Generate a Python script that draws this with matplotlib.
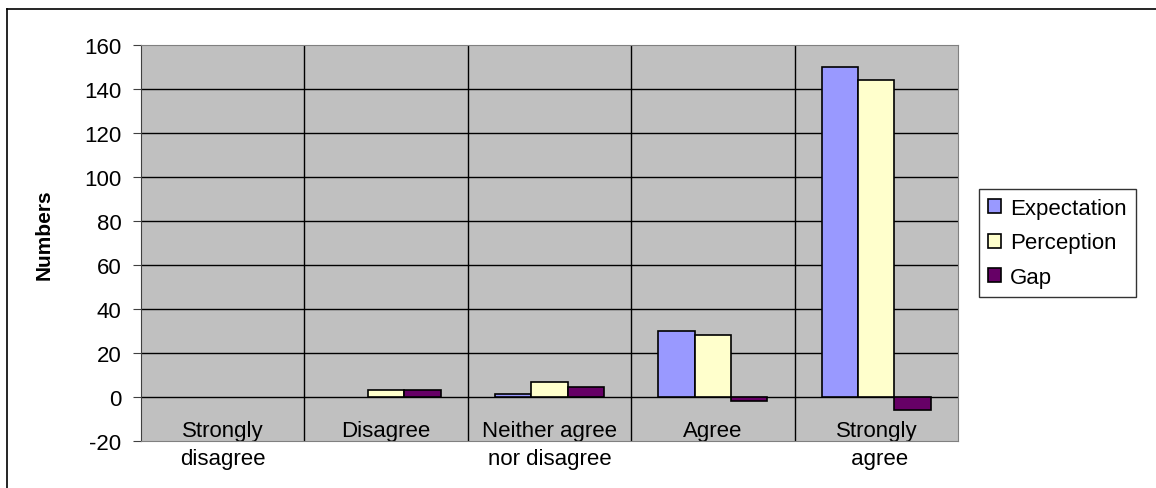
import matplotlib.pyplot as plt
import numpy as np
from matplotlib.lines import Line2D

categories = ["Strongly\ndisagree", "Disagree", "Neither agree\nnor disagree", "Agree", "Strongly\n agree"]
expectation = [0, 0, 1.5, 30, 150]
perception = [0, 3, 7, 28, 144]
gap = [0, 3, 4.5, -2, -6]

plt.rcParams["font.family"] = "Liberation Sans"
plt.rcParams["axes.unicode_minus"] = False
fig = plt.figure(figsize=(11.56, 4.89), dpi=100)
ax = fig.add_axes([141/1156, 1-442/489, (958-141)/1156, (442-46)/489])
ax.set_facecolor("#c0c0c0")

x = np.arange(len(categories))
w = 0.222
series = [(expectation, -w, "#9999ff", "Expectation"),
          (perception, 0, "#ffffcc", "Perception"),
          (gap, w, "#660066", "Gap")]
for vals, off, col, lab in series:
    # no outline on empty bars
    edges = ["black" if v != 0 else "none" for v in vals]
    ax.bar(x + off, vals, w, color=col, edgecolor=edges, lw=1.2, label=lab, zorder=3)

ax.set_xlim(-0.5, len(categories) - 0.5)
ax.set_ylim(-20, 160)
ax.set_yticks(np.arange(-20, 161, 20))
for yv in np.arange(0, 161, 20)[:-1]:
    ax.axhline(yv, color="black", lw=1, zorder=1)
for xv in np.arange(0.5, len(categories) - 0.5, 1):
    ax.axvline(xv, color="black", lw=1, zorder=1)

ax.set_xticks(x)
ax.set_xticklabels(categories, fontsize=16, linespacing=1.4)
ax.tick_params(axis="x", length=0, pad=-15)
ax.tick_params(axis="y", labelsize=16, length=6, color="#404040", pad=8)
for s in ["top", "right", "bottom"]:
    ax.spines[s].set_color("#808080")
ax.spines["left"].set_color("#404040")
ax.set_ylabel("Numbers", fontsize=15, fontweight="bold")
ax.yaxis.set_label_coords(-0.1065, 0.523)

leg = ax.legend(loc="center left", bbox_to_anchor=(1.026, 0.5), fontsize=16, frameon=True,
                fancybox=False, edgecolor="black", handlelength=0.6, handleheight=0.6,
                handletextpad=0.4, borderpad=0.4, labelspacing=0.6, borderaxespad=0)
leg.get_frame().set_linewidth(1)
for h in leg.legend_handles:
    h.set_edgecolor("black")
    h.set_linewidth(1.2)

fig.add_artist(Line2D([7/1156, 7/1156], [0, 1-10/489], color="black", lw=1.2))
fig.add_artist(Line2D([7/1156, 1], [1-10/489, 1-10/489], color="black", lw=1.2))

fig.savefig("out.png", dpi=100)
